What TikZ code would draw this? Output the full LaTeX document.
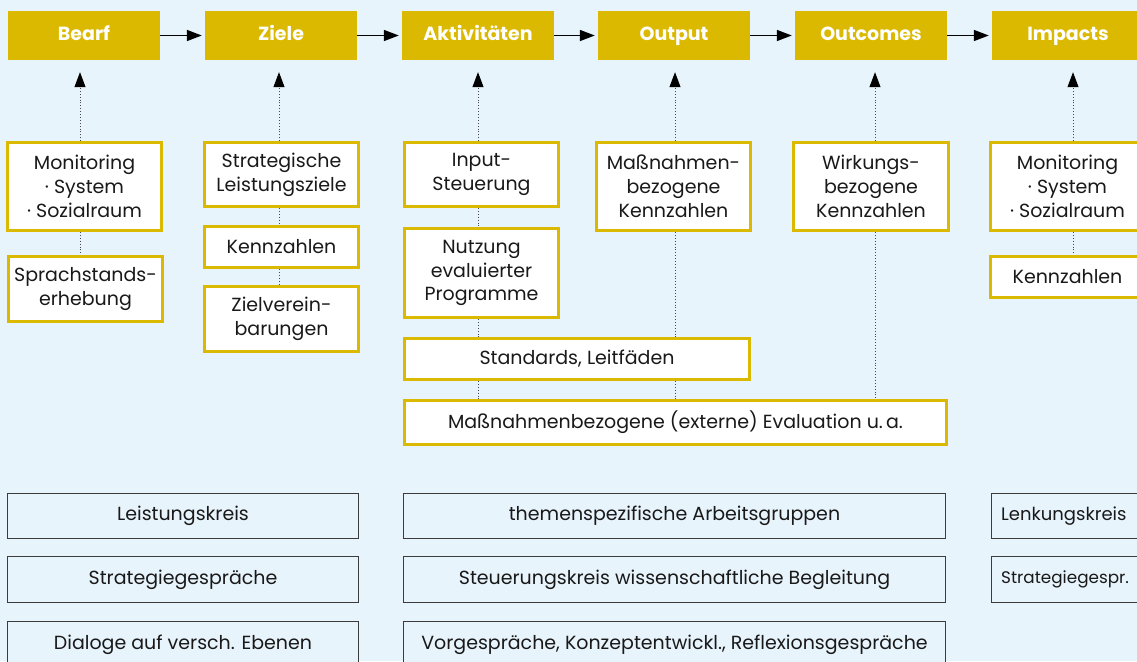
\documentclass[tikz,border=0pt]{standalone}
\usepackage{fontspec}
\setmainfont{Poppins}
\usetikzlibrary{arrows.meta}
\definecolor{bg}{RGB}{232,244,252}
\definecolor{gold}{RGB}{219,185,0}
\definecolor{ink}{RGB}{25,25,25}
\definecolor{dotc}{RGB}{70,70,80}
\tikzset{
  topbox/.style={fill=gold, draw=none, text=white, font=\fontsize{19}{24}\selectfont\bfseries, inner sep=0pt, text height=13.5pt, text depth=3pt},
  ybox/.style={fill=white, draw=gold, line width=3pt, text=ink, align=center, font=\fontsize{19}{23.8}\selectfont, inner sep=0pt},
  gbox/.style={fill=bg, draw=ink!85, line width=1.3pt, text=ink, align=center, font=\fontsize{19}{23.8}\selectfont, inner sep=0pt},
  lbl/.style={text=ink, font=\fontsize{19}{23.8}\selectfont, inner sep=0pt, anchor=west},
  harrow/.style={line width=1.5pt, -{Triangle[length=15pt,width=11pt]}, shorten >=3pt},
  darrow/.style={line width=0.9pt, dotc, dotted, -{Triangle[length=15pt,width=11pt,color=black]}, shorten >=12pt},
  dline/.style={line width=0.9pt, dotc, dotted}
}
% name, x1, x2, y1, y2, style, text (pixel coordinates, y downward)
\newcommand\bx[7]{\node[#6, minimum width={#3-#2}, minimum height={#5-#4}] (#1) at ({(#2+#3)/2},{(#4+#5)/2}) {#7};}
\begin{document}
\begin{tikzpicture}[x=1pt,y=-1pt]
\useasboundingbox (0,0) rectangle (1137,661);
\fill[bg] (0,0) rectangle (1137,661);
\clip (0,0) rectangle (1137,661);
% column x positions
\coordinate (c1) at (80,0);
\coordinate (c2) at (279,0);
\coordinate (c3) at (478,0);
\coordinate (c4) at (675,0);
\coordinate (c5) at (875,0);
\coordinate (c6) at (1073,0);
% top row
\bx{bearf}{8}{160}{11}{60}{topbox}{Bearf}
\bx{ziele}{205}{357}{11}{60}{topbox}{Ziele}
\bx{akt}{402}{554}{11}{60}{topbox}{Aktivitäten}
\bx{outp}{598}{750}{11}{60}{topbox}{Output}
\bx{outc}{795}{947}{11}{60}{topbox}{Outcomes}
\bx{imp}{992}{1144}{11}{60}{topbox}{Impacts}
\draw[harrow] (bearf.east) -- (ziele.west);
\draw[harrow] (ziele.east) -- (akt.west);
\draw[harrow] (akt.east) -- (outp.west);
\draw[harrow] (outp.east) -- (outc.west);
\draw[harrow] (outc.east) -- (imp.west);
% second row
\bx{mon1}{7.5}{161.5}{142.5}{230.5}{ybox}{Monitoring\\· System\\· Sozialraum}
\bx{sprach}{8.5}{162.5}{256.5}{321.5}{ybox}{Sprachstands-\\erhebung}
\bx{strat}{204.5}{358.5}{142.5}{206.5}{ybox}{Strategische\\Leistungsziele}
\bx{kenn1}{204.5}{358.5}{226.5}{267.5}{ybox}{Kennzahlen}
\bx{ziel}{204.5}{358.5}{286.5}{351.5}{ybox}{Zielverein-\\barungen}
\bx{input}{404.5}{558.5}{142.5}{206.5}{ybox}{Input-\\Steuerung}
\bx{nutz}{404.5}{558.5}{228.5}{317.5}{ybox}{Nutzung\\evaluierter\\Programme}
\bx{massk}{596.5}{750.5}{142.5}{230.5}{ybox}{Maßnahmen-\\bezogene\\Kennzahlen}
\bx{wirk}{793.5}{948.5}{142.5}{230.5}{ybox}{Wirkungs-\\bezogene\\Kennzahlen}
\bx{mon2}{990.5}{1144.5}{142.5}{230.5}{ybox}{Monitoring\\· System\\· Sozialraum}
\bx{kenn2}{990.5}{1144.5}{256.5}{297.5}{ybox}{Kennzahlen}
\bx{stand}{404.5}{749.5}{338.5}{379.5}{ybox}{Standards, Leitfäden}
\bx{eval}{404.5}{946.5}{400.5}{444.5}{ybox}{Maßnahmenbezogene (externe) Evaluation u.\,a.}
% dotted arrows to top row
\draw[darrow] (mon1.north -| c1) -- (bearf.south -| c1);
\draw[darrow] (strat.north -| c2) -- (ziele.south -| c2);
\draw[darrow] (input.north -| c3) -- (akt.south -| c3);
\draw[darrow] (massk.north -| c4) -- (outp.south -| c4);
\draw[darrow] (wirk.north -| c5) -- (outc.south -| c5);
\draw[darrow] (mon2.north -| c6) -- (imp.south -| c6);
% dotted connectors between boxes
\draw[dline] (mon1.south -| c1) -- (sprach.north -| c1);
\draw[dline] (strat.south -| c2) -- (kenn1.north -| c2);
\draw[dline] (kenn1.south -| c2) -- (ziel.north -| c2);
\draw[dline] (input.south -| c3) -- (nutz.north -| c3);
\draw[dline] (nutz.south -| c3) -- (stand.north -| c3);
\draw[dline] (stand.south -| c3) -- (eval.north -| c3);
\draw[dline] (massk.south -| c4) -- (stand.north -| c4);
\draw[dline] (stand.south -| c4) -- (eval.north -| c4);
\draw[dline] (wirk.south -| c5) -- (eval.north -| c5);
\draw[dline] (mon2.south -| c6) -- (kenn2.north -| c6);
% bottom rows
\bx{lk}{7.5}{358.5}{493.5}{538.5}{gbox}{Leistungskreis}
\bx{sg}{7.5}{358.5}{556.5}{602.5}{gbox}{Strategiegespräche}
\bx{dial}{7.5}{358.5}{621.5}{668}{gbox}{Dialoge auf versch. Ebenen}
\bx{tha}{403.5}{945.5}{493.5}{538.5}{gbox}{themenspezifische Arbeitsgruppen}
\bx{stk}{403.5}{945.5}{556.5}{602.5}{gbox}{Steuerungskreis wissenschaftliche Begleitung}
\bx{vor}{403.5}{945.5}{621.5}{668}{gbox}{Vorgespräche, Konzeptentwickl., Reflexionsgespräche}
\bx{lenk}{991.5}{1160}{493.5}{538.5}{gbox}{}
\bx{sg2}{991.5}{1160}{556.5}{602.5}{gbox}{}
\node[lbl, font=\fontsize{18}{23.8}\selectfont] (lenkt) at (1001,516) {Lenkungskreis};
\node[lbl, font=\fontsize{16.8}{23.8}\selectfont] (sg2t) at (1001,579.5) {Strategiegespr.};
\end{tikzpicture}
\end{document}
